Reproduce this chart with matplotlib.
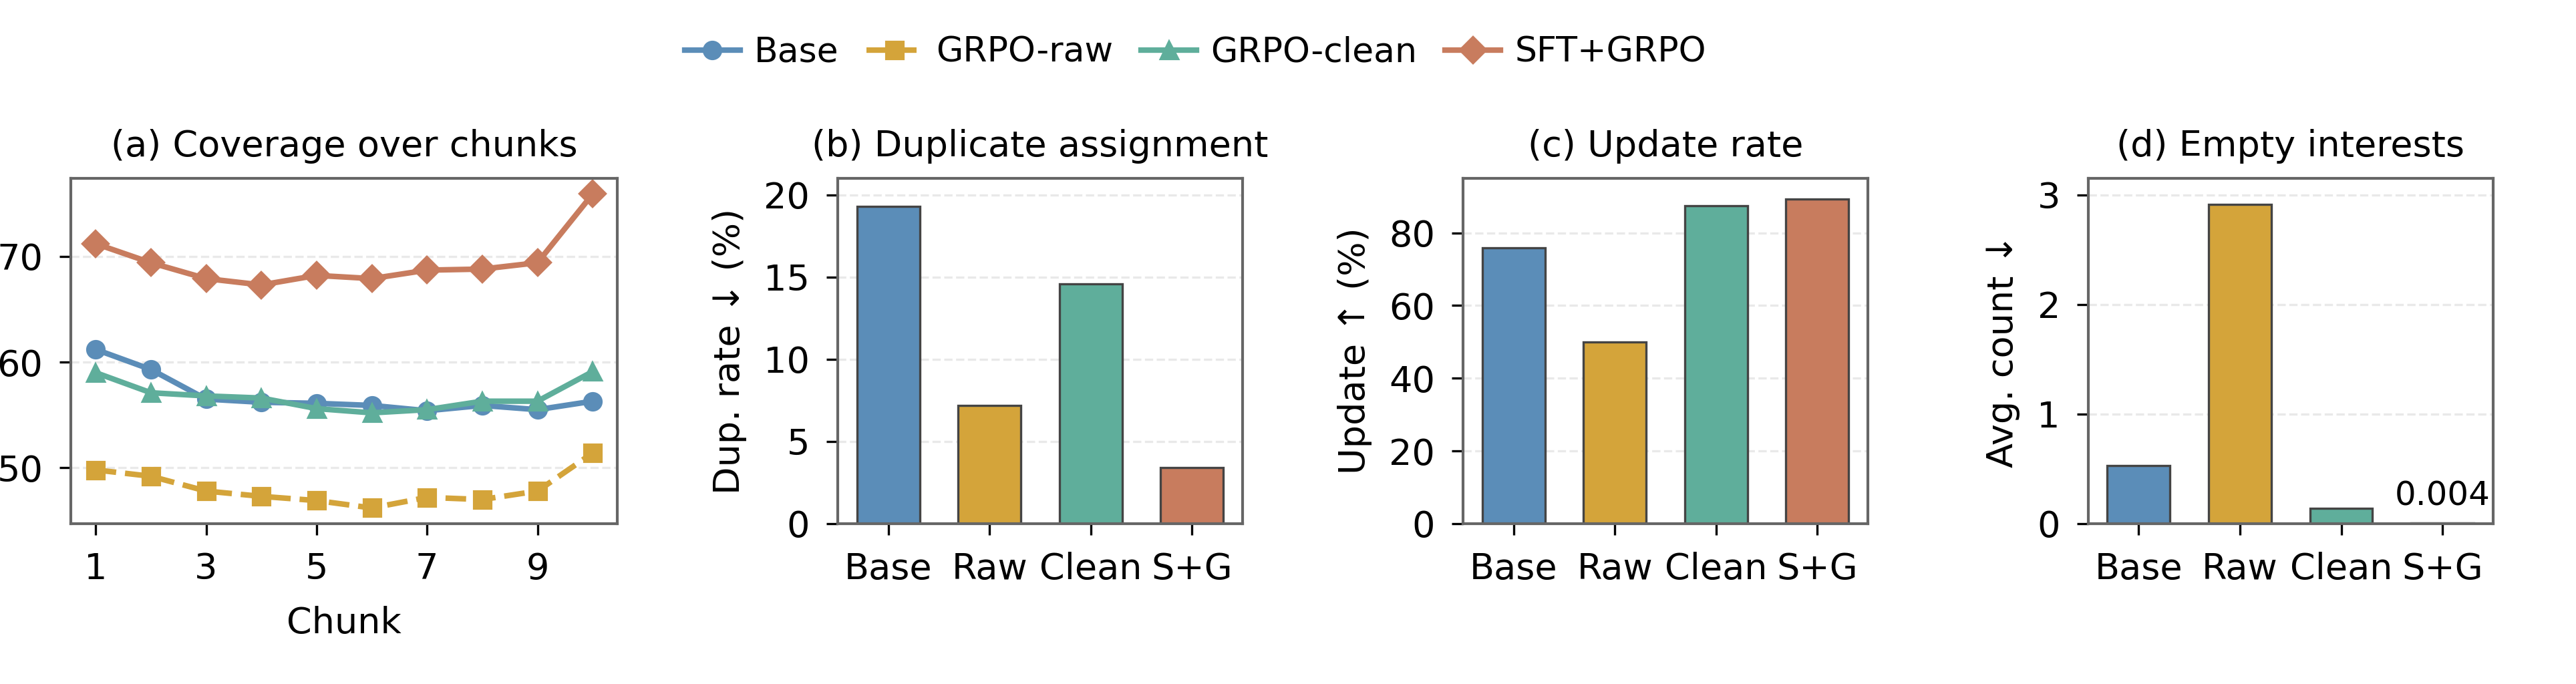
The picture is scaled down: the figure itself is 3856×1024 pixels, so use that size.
import matplotlib
matplotlib.use("Agg")
import matplotlib.pyplot as plt
import numpy as np

plt.rcParams['font.family'] = ['DejaVu Sans']
plt.rcParams['font.size'] = 13

# data
methods = ["Base", "GRPO-raw", "GRPO-clean", "SFT+GRPO"]
short = ["Base", "Raw", "Clean", "S+G"]
colors = ["#5B8DB8", "#D4A43A", "#5FAE9B", "#C87C5E"]
markers = ["o", "s", "^", "D"]
styles = ["-", "--", "-", "-"]

chunks = np.arange(1, 11)
cov_base = [61.2, 59.3, 56.5, 56.2, 56.1, 55.9, 55.4, 55.9, 55.5, 56.3]
cov_raw = [49.8, 49.2, 47.8, 47.3, 46.9, 46.2, 47.2, 47.0, 47.8, 51.4]
cov_clean = [59.0, 57.1, 56.8, 56.6, 55.6, 55.2, 55.5, 56.3, 56.3, 59.1]
cov_sft = [71.2, 69.4, 67.9, 67.3, 68.2, 67.9, 68.7, 68.8, 69.4, 75.9]
coverage = [cov_base, cov_raw, cov_clean, cov_sft]

dup_rate = [19.3, 7.2, 14.6, 3.4]
update_rate = [75.8, 50.0, 87.5, 89.3]
empty_cnt = [0.53, 2.91, 0.14, 0.004]

fig, axes = plt.subplots(1, 4, figsize=(3856 / 300, 1024 / 300),
                         gridspec_kw={'width_ratios': [1.35, 1, 1, 1]})
fig.subplots_adjust(left=0.0275, right=0.9678, bottom=0.2344, top=0.7393, wspace=0.5)


def style_ax(ax):
    for s in ax.spines.values():
        s.set_color("#666666")
        s.set_linewidth(1.0)
    ax.tick_params(direction='out', length=4, width=0.8, color='black', labelsize=13, pad=6)
    ax.yaxis.grid(True, linestyle='--', color='#e9e9e9', linewidth=0.8)
    ax.set_axisbelow(True)


# (a) coverage
ax = axes[0]
for i in range(4):
    ax.plot(chunks, coverage[i], linestyle=styles[i], marker=markers[i], color=colors[i],
            lw=2.0, ms=6 if markers[i] != 'D' else 6.5, label=methods[i])
ax.set_xticks([1, 3, 5, 7, 9])
ax.set_yticks([50, 60, 70])
ax.set_xlabel("Chunk", labelpad=7)
ax.set_title("(a) Coverage over chunks", fontsize=13, pad=8)
style_ax(ax)

# bar panels
x = np.arange(4)
bar_data = [dup_rate, update_rate, empty_cnt]
titles = ["(b) Duplicate assignment", "(c) Update rate", "(d) Empty interests"]
ylabels = ["Dup. rate \u2193 (%)", "Update \u2191 (%)", "Avg. count \u2193"]
ylims = [21.0, 95.0, 3.15]
yticks = [[0, 5, 10, 15, 20], [0, 20, 40, 60, 80], [0, 1, 2, 3]]
for k in range(3):
    ax = axes[k + 1]
    ax.bar(x, bar_data[k], width=0.62, color=colors, edgecolor="#444444", linewidth=0.8)
    ax.set_xticks(x)
    ax.set_xticklabels(short)
    ax.set_xlim(-0.5, 3.5)
    ax.set_ylim(0, ylims[k])
    ax.set_yticks(yticks[k])
    ax.set_title(titles[k], fontsize=13, pad=8)
    ax.set_ylabel(ylabels[k], labelpad=6)
    style_ax(ax)

axes[3].text(3, empty_cnt[3] + 0.1, "0.004", ha='center', va='bottom', fontsize=12)

handles, labels = axes[0].get_legend_handles_labels()
fig.legend(handles, labels, loc='center', bbox_to_anchor=(0.464, 0.923), ncol=4,
           frameon=False, fontsize=12.5, handlelength=1.6, handletextpad=0.4,
           columnspacing=0.8)

fig.savefig("out.png", dpi=300)
